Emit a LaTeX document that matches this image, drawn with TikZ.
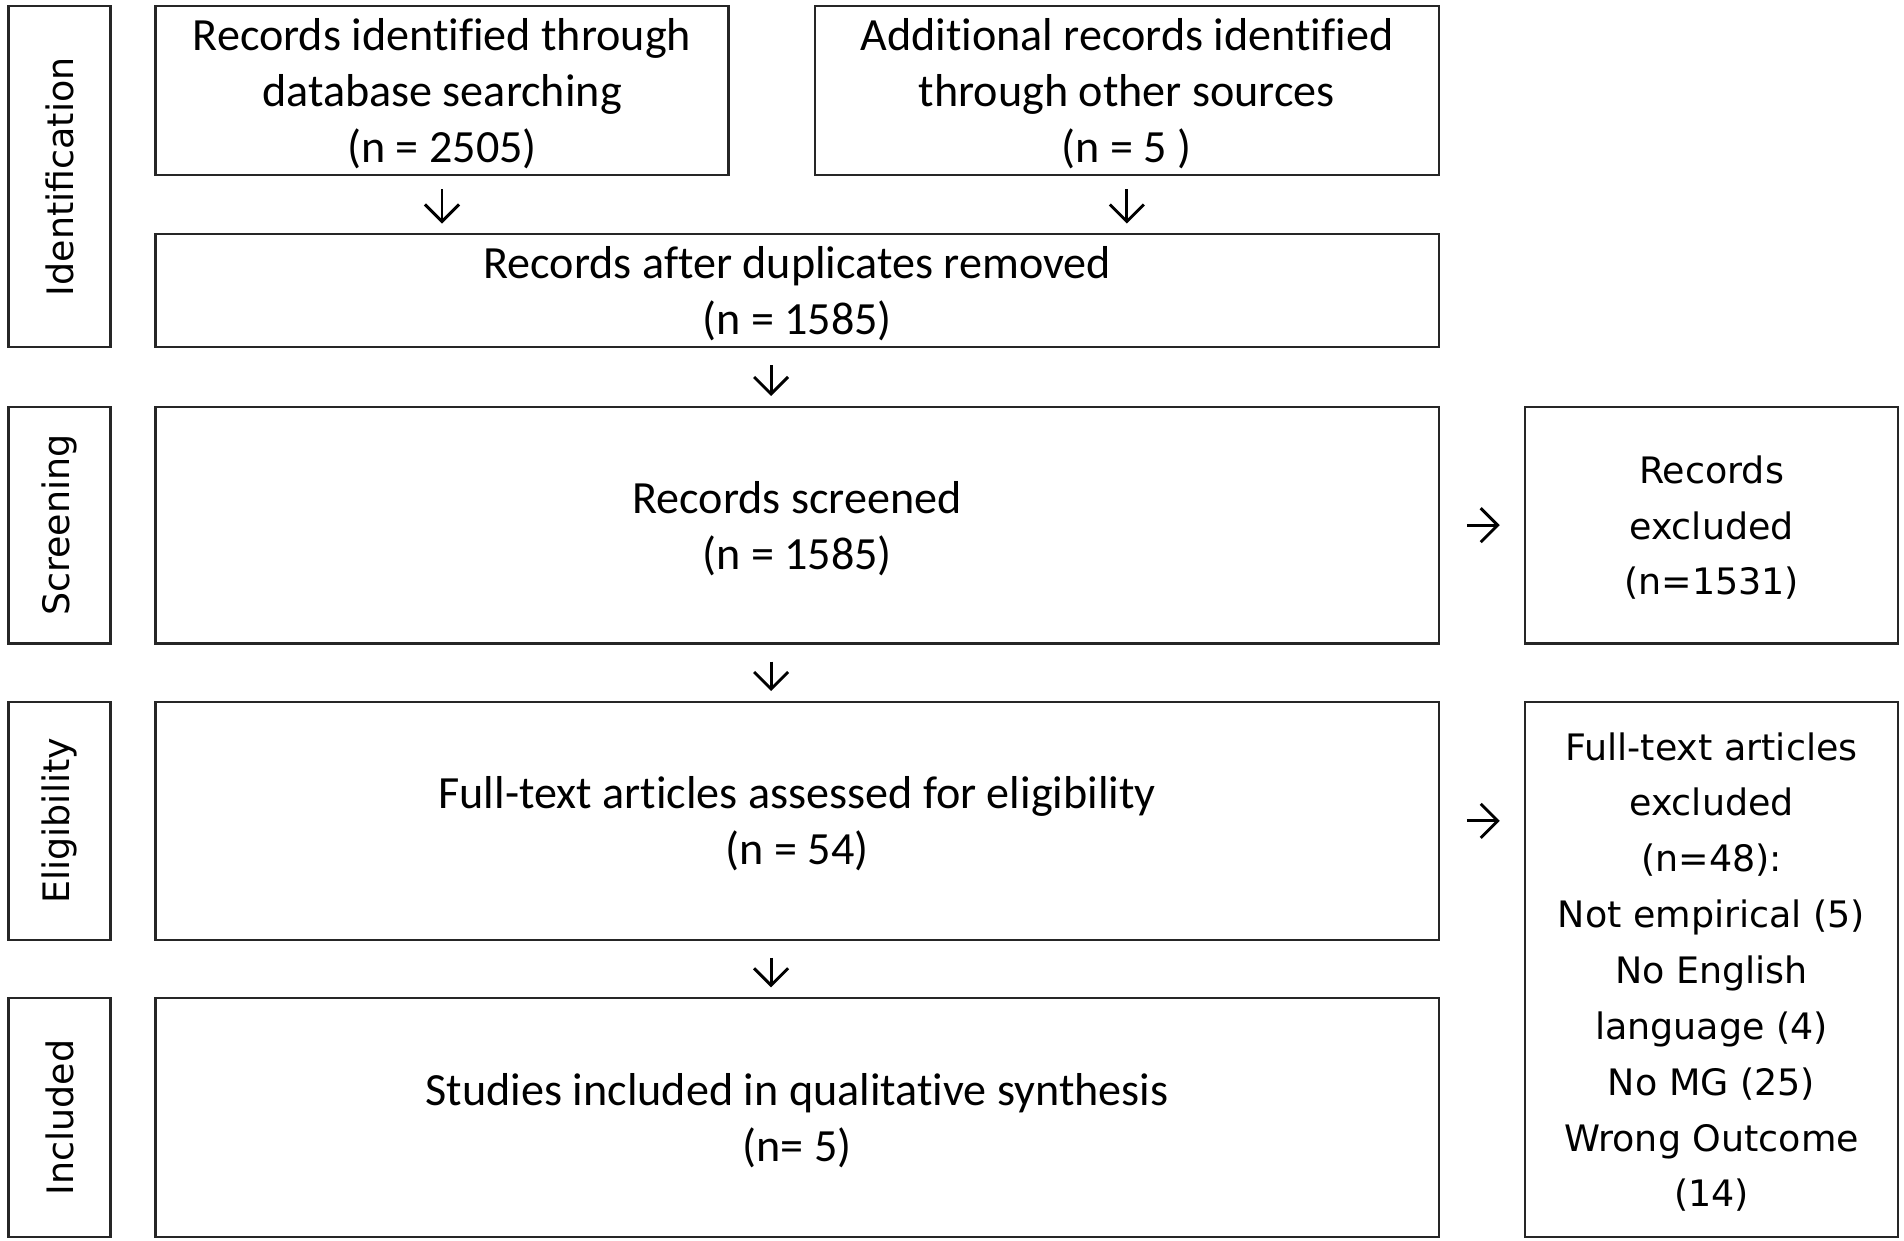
\documentclass[tikz,border=0pt]{standalone}
\usepackage{fontspec}
\setmainfont{Carlito}[Ligatures={NoCommon}]
\newfontfamily\sidefont{DejaVu Sans}
\usepackage{tikz}
\usetikzlibrary{arrows.meta}

\tikzset{
  box/.style={draw=black!85, line width=0.9pt, align=center, inner sep=0pt, text depth=0pt,
    font=\fontsize{19}{23}\selectfont},
  sidebox/.style={box, font=\sidefont\fontsize{15}{23}\selectfont},
  phase/.style={draw=black!85, line width=0.9pt, inner sep=0pt, minimum width=42pt,
    font=\sidefont\fontsize{15}{18}\selectfont},
  flow/.style={line width=1.2pt, -{Straight Barb[length=7pt, width=14pt, line width=1.2pt]}},
}

\begin{document}
\begin{tikzpicture}
  \useasboundingbox (0,0) rectangle (784pt,-510.6pt);

  % phase labels
  \node[phase, minimum height=140.5pt] (ident) at (24.5pt,-72.75pt) {};
  \node[rotate=90, font=\sidefont\fontsize{15}{18}\selectfont] at (ident) {Identification};
  \node[phase, minimum height=97.5pt] (screen) at (24.5pt,-216.25pt) {};
  \node[rotate=90, font=\sidefont\fontsize{15}{18}\selectfont] at (screen) {Screening};
  \node[phase, minimum height=98pt] (elig) at (24.5pt,-338pt) {};
  \node[rotate=90, font=\sidefont\fontsize{15}{18}\selectfont] at (elig) {Eligibility};
  \node[phase, minimum height=98.5pt] (incl) at (24.5pt,-460.25pt) {};
  \node[rotate=90, font=\sidefont\fontsize{15}{18}\selectfont] at (incl) {Included};

  % main column
  \node[box, minimum width=236pt, minimum height=69.5pt] (db) at (182pt,-37.25pt)
    {Records identified through\\database searching\\(n = 2505)};
  \node[box, minimum width=257pt, minimum height=69.5pt] (other) at (464pt,-37.25pt)
    {Additional records identified\\through other sources\\(n = 5 )};
  \node[box, minimum width=528.5pt, minimum height=46.5pt] (dup) at (328.25pt,-119.75pt)
    {Records after duplicates removed\\(n = 1585)};
  \node[box, minimum width=528.5pt, minimum height=97.5pt] (screened) at (328.25pt,-216.25pt)
    {Records screened\\(n = 1585)};
  \node[box, minimum width=528.5pt, minimum height=98pt] (fulltext) at (328.25pt,-338pt)
    {Full-text articles assessed for eligibility\\(n = 54)};
  \node[box, minimum width=528.5pt, minimum height=98.5pt] (studies) at (328.25pt,-460.25pt)
    {Studies included in qualitative synthesis\\(n= 5)};

  % exclusions
  \node[sidebox, minimum width=153.5pt, minimum height=97.5pt] (recex) at (704.75pt,-216.25pt)
    {Records\\excluded\\(n=1531)};
  \node[sidebox, minimum width=153.5pt, minimum height=220.5pt] (ftex) at (704.75pt,-399.25pt)
    {Full-text articles\\excluded\\(n=48):\\Not empirical (5)\\No English\\language (4)\\No MG (25)\\Wrong Outcome\\(14)};

  % arrows
  \draw[flow, shorten <=5.5pt, shorten >=4pt] (db.south) -- (db.south |- dup.north);
  \draw[flow, shorten <=5.5pt, shorten >=4pt] (other.south) -- (other.south |- dup.north);
  \draw[flow, shorten <=7pt, shorten >=4pt] ([xshift=-10.75pt]dup.south) -- ([xshift=-10.75pt]screened.north);
  \draw[flow, shorten <=7pt, shorten >=4pt] ([xshift=-10.75pt]screened.south) -- ([xshift=-10.75pt]fulltext.north);
  \draw[flow, shorten <=7pt, shorten >=4pt] ([xshift=-10.75pt]fulltext.south) -- ([xshift=-10.75pt]studies.north);
  \draw[flow, shorten <=11pt, shorten >=10pt] (screened.east) -- (recex.west);
  \draw[flow, shorten <=11pt, shorten >=10pt] (fulltext.east) -- (fulltext.east -| ftex.west);
\end{tikzpicture}
\end{document}
